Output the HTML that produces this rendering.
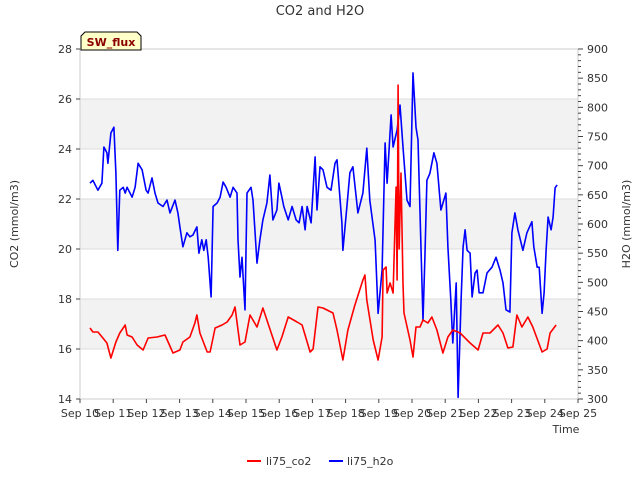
<!DOCTYPE html>
<html><head><meta charset="utf-8"><style>
body{margin:0;background:#fff;font-family:"Liberation Sans",sans-serif}
svg text{font-family:"DejaVu Sans","Liberation Sans",sans-serif}
</style></head><body>
<svg id="c" width="640" height="480" xmlns="http://www.w3.org/2000/svg"></svg>
<script>
const xTickLabels=["Sep 10","Sep 11","Sep 12","Sep 13","Sep 14","Sep 15","Sep 16","Sep 17","Sep 18","Sep 19","Sep 20","Sep 21","Sep 22","Sep 23","Sep 24","Sep 25"];
const co2Ticks=[14,16,18,20,22,24,26,28];
const h2oTicks=[300,350,400,450,500,550,600,650,700,750,800,850,900];
const co2Days=[0.30,0.39,0.54,0.69,0.81,0.93,1.08,1.20,1.36,1.42,1.57,1.72,1.90,2.05,2.32,2.56,2.80,3.01,3.10,3.31,3.46,3.52,3.61,3.83,3.92,4.07,4.28,4.43,4.58,4.67,4.82,4.97,5.12,5.33,5.51,5.66,5.93,6.08,6.27,6.54,6.69,6.93,7.02,7.17,7.32,7.62,7.74,7.92,8.07,8.28,8.52,8.58,8.64,8.83,8.98,9.10,9.13,9.22,9.25,9.34,9.43,9.46,9.52,9.55,9.58,9.61,9.67,9.73,9.76,9.94,10.03,10.12,10.24,10.33,10.48,10.60,10.75,10.93,11.08,11.23,11.45,11.75,11.99,12.14,12.35,12.59,12.74,12.89,13.04,13.16,13.31,13.49,13.64,13.92,14.07,14.16,14.34];
const co2Vals=[16.84,16.68,16.68,16.44,16.24,15.64,16.28,16.64,16.96,16.56,16.48,16.16,15.96,16.44,16.48,16.56,15.84,15.96,16.28,16.48,17.04,17.36,16.64,15.88,15.88,16.84,16.96,17.08,17.36,17.68,16.16,16.28,17.36,16.88,17.64,17.04,15.96,16.48,17.28,17.08,16.96,15.88,16.0,17.68,17.64,17.44,16.76,15.56,16.76,17.76,18.76,18.96,17.96,16.36,15.56,16.48,19.16,19.28,18.24,18.64,18.24,19.68,22.48,18.76,26.56,20.0,23.04,18.6,17.44,16.36,15.68,16.88,16.88,17.16,17.04,17.28,16.76,15.84,16.48,16.76,16.64,16.24,15.96,16.64,16.64,16.96,16.64,16.04,16.08,17.36,16.88,17.28,16.88,15.88,16.0,16.64,16.96];
const h2oDays=[0.30,0.39,0.54,0.66,0.72,0.81,0.84,0.93,1.02,1.08,1.14,1.20,1.30,1.36,1.42,1.57,1.66,1.75,1.87,1.99,2.05,2.17,2.26,2.35,2.50,2.62,2.71,2.86,2.95,3.01,3.10,3.22,3.31,3.40,3.52,3.58,3.67,3.73,3.80,3.86,3.95,4.01,4.13,4.22,4.31,4.40,4.52,4.61,4.73,4.76,4.82,4.88,4.97,5.03,5.15,5.21,5.33,5.42,5.51,5.63,5.72,5.81,5.93,5.99,6.08,6.14,6.27,6.39,6.51,6.60,6.69,6.78,6.84,6.96,7.08,7.14,7.23,7.32,7.44,7.56,7.68,7.74,7.89,7.92,8.04,8.13,8.22,8.37,8.52,8.64,8.73,8.89,8.98,9.10,9.19,9.25,9.37,9.43,9.55,9.64,9.73,9.85,9.94,10.03,10.12,10.18,10.33,10.39,10.45,10.54,10.66,10.75,10.87,11.02,11.08,11.17,11.23,11.33,11.39,11.48,11.54,11.60,11.66,11.75,11.81,11.90,11.96,12.02,12.14,12.26,12.41,12.53,12.65,12.74,12.83,12.95,13.01,13.10,13.19,13.34,13.46,13.61,13.67,13.77,13.83,13.92,13.98,14.04,14.10,14.19,14.25,14.31,14.37];
const h2oVals=[670,675,658,670,732,722,704,756,766,687,555,658,663,653,663,646,663,704,693,658,653,679,653,636,630,641,619,641,619,595,561,585,578,581,595,550,573,555,573,543,475,630,636,646,672,663,646,663,653,573,509,543,453,653,663,641,533,573,607,636,684,607,624,670,646,630,607,630,607,602,630,590,630,602,715,624,698,693,663,658,704,710,602,555,630,688,698,619,653,730,641,572,447,521,739,670,787,732,761,804,732,641,630,859,766,744,435,543,675,687,722,704,624,653,561,470,396,499,303,470,561,590,555,550,475,516,521,482,482,516,526,543,521,499,453,449,585,619,590,555,585,604,561,526,526,447,482,555,612,590,612,662,667];

const L=80,R=578,T=49,B=399;
const xs=d=>L+(R-L)*d/15;
const yC=v=>B-(v-14)*(B-T)/14;
const yH=v=>B-(v-300)*(B-T)/600;
const svg=document.getElementById('c');
const NS='http://www.w3.org/2000/svg';
function mk(tag,attrs,parent){const e=document.createElementNS(NS,tag);for(const k in attrs)e.setAttribute(k,attrs[k]);(parent||svg).appendChild(e);return e;}
function txt(s,attrs){const e=mk('text',attrs);e.textContent=s;return e;}

// bands
for(const lo of [16,20,24]){
 const r=mk('rect',{x:L,y:yC(lo+2),width:R-L,height:yC(lo)-yC(lo+2),fill:'#f2f2f2'});
 
 
}
for(const v of co2Ticks){
 const g=mk('line',{x1:L,x2:R,y1:yC(v),y2:yC(v),stroke:'#dcdcdc','stroke-width':1});
 
 
}
const frame=mk('rect',{x:L,y:T,width:R-L,height:B-T,fill:'none',stroke:'#cccccc'});



// left ticks
co2Ticks.forEach(v=>{
 mk('line',{x1:L-4,x2:L,y1:yC(v),y2:yC(v),stroke:'#444'});
 const t=txt(String(v),{x:L-8,y:yC(v)+4,'text-anchor':'end','font-size':11,fill:'#333'});
 
 
});
// right ticks
for(let v=300;v<=900;v+=10){
 const major=v%50===0;
 mk('line',{x1:R,x2:R+(major?5:3),y1:yH(v),y2:yH(v),stroke:'#444'});
}
h2oTicks.forEach(v=>{
 const t=txt(String(v),{x:R+9,y:yH(v)+4,'font-size':11,fill:'#333'});
 
 
});
// x ticks
xTickLabels.forEach((s,i)=>{
 mk('line',{x1:xs(i),x2:xs(i),y1:B,y2:B+4,stroke:'#444'});
 const t=txt(s,{x:xs(i),y:B+18,'text-anchor':'middle','font-size':11,fill:'#333'});
 
 
});

function line(days,vals,yf,color,name){
 const d=days.map((x,i)=>(i?'L':'M')+xs(x).toFixed(1)+','+yf(vals[i]).toFixed(1)).join('');
 const p=mk('path',{d:d,fill:'none',stroke:color,'stroke-width':1.6,'stroke-linejoin':'round'});
 
 
}
line(h2oDays,h2oVals,yH,'#0000ff','series-li75-h2o');
line(co2Days,co2Vals,yC,'#ff0000','series-li75-co2');

const title=txt('CO2 and H2O',{x:320,y:15,'text-anchor':'middle','font-size':13,fill:'#333'});


const yl=txt('CO2 (mmol/m3)',{x:0,y:0,transform:'translate(18,224) rotate(-90)','text-anchor':'middle','font-size':11,fill:'#333'});


const yr=txt('H2O (mmol/m3)',{x:0,y:0,transform:'translate(630,224) rotate(-90)','text-anchor':'middle','font-size':11,fill:'#333'});


const xl=txt('Time',{x:566,y:433,'text-anchor':'middle','font-size':11,fill:'#333'});



// SW_flux tag
const tag=mk('path',{d:'M81,50 L81,36 L85,32 L137,32 L141,36 L141,50 Z',fill:'#ffffc8',stroke:'#000','stroke-width':1});


const tt=txt('SW_flux',{x:111,y:46,'text-anchor':'middle','font-size':11,'font-weight':'bold',fill:'#8b0000'});



// legend
const g1=mk('g',{});


mk('line',{x1:247,x2:261,y1:461,y2:461,stroke:'#ff0000','stroke-width':2},g1);
const l1=mk('text',{x:266,y:465,'font-size':11,fill:'#333'},g1);l1.textContent='li75_co2';
const g2=mk('g',{});


mk('line',{x1:329,x2:343,y1:461,y2:461,stroke:'#0000ff','stroke-width':2},g2);
const l2=mk('text',{x:347,y:465,'font-size':11,fill:'#333'},g2);l2.textContent='li75_h2o';
</script>
</body></html>
